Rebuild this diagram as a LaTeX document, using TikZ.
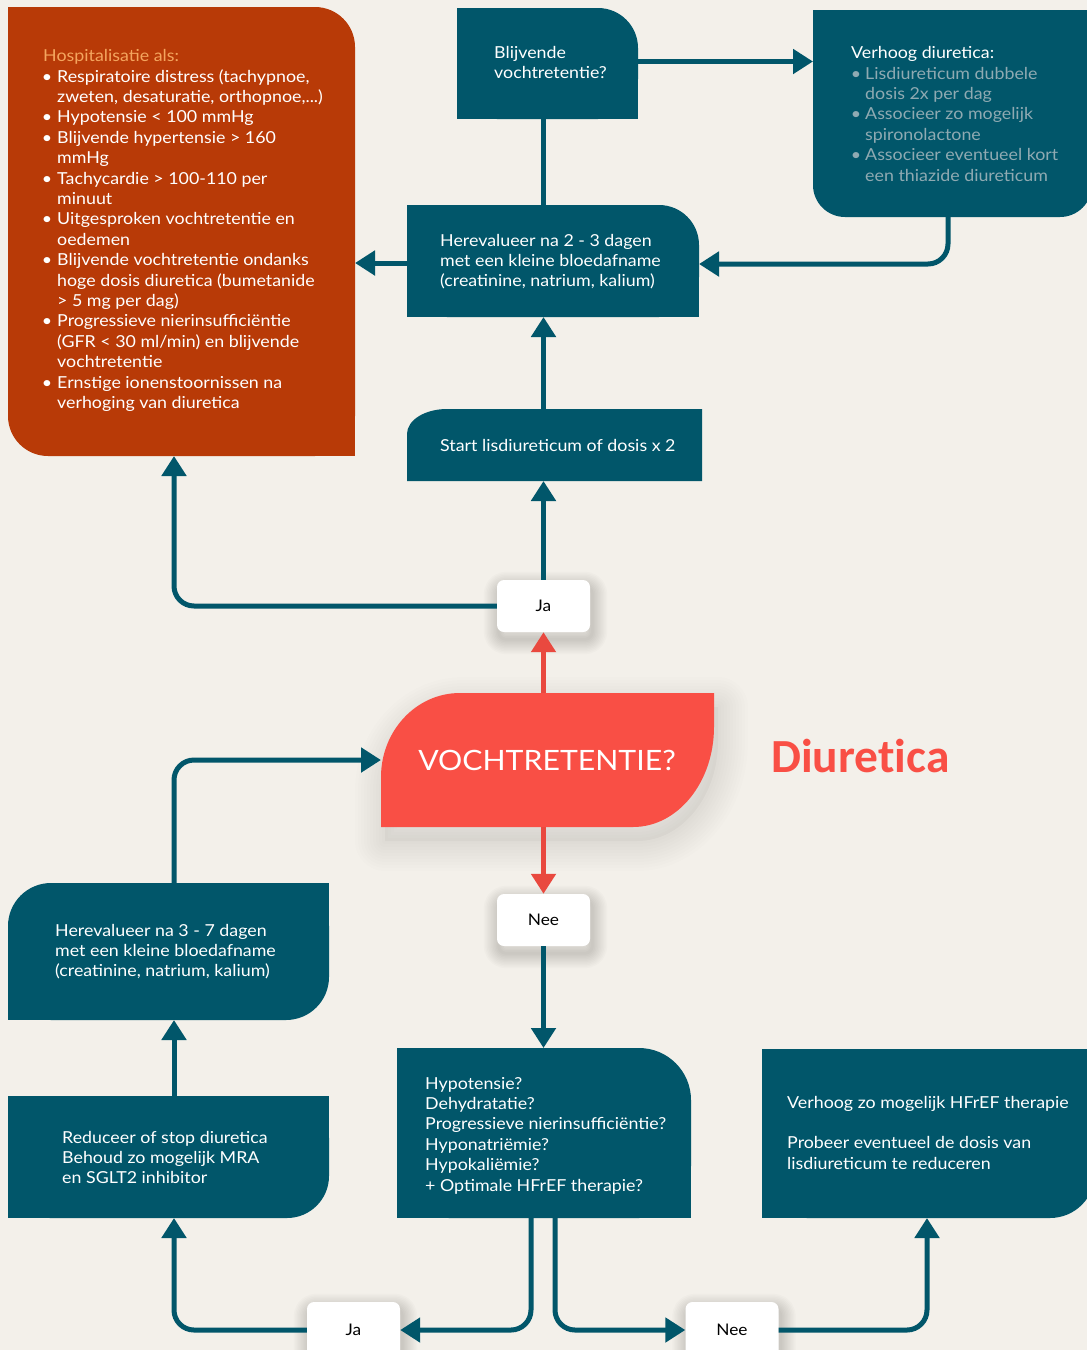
\documentclass[tikz,border=0pt]{standalone}
\usepackage{fontspec}
\setmainfont{Lato}[FakeStretch=1.08]
\newfontfamily\diurfont{Carlito}[Ligatures=NoCommon]
\usetikzlibrary{arrows.meta,calc}
\definecolor{bgc}{HTML}{F3F0EA}
\definecolor{tealc}{HTML}{01566A}
\definecolor{orangebox}{HTML}{B83A07}
\definecolor{titleorange}{HTML}{F4A55E}
\definecolor{greytxt}{HTML}{8FAAB2}
\definecolor{redbox}{HTML}{F94F45}
\definecolor{redarrow}{HTML}{E9493F}
\pgfdeclarelayer{bgl}
\pgfdeclarelayer{shadowl}
\pgfsetlayers{bgl,shadowl,main}
\newcommand\bul{\makebox[0pt][r]{\textbullet\hspace{5pt}}}
\newcommand\gbul{\makebox[0pt][r]{\textbullet\hspace{4pt}}}
\def\vochpath{(381,827) -- (381,777) .. controls (381,731) and (416,693) .. (460,693) -- (714,693) -- (714,727) .. controls (714,782) and (678,827) .. (633,827) -- cycle}
\newcommand\lblshadow[1]{%
  \foreach \w in {3,6,...,30}{\draw[black, opacity=0.014, line width=\w pt, rounded corners=7pt, line join=round] ($(#1.north west)+(2,7)$) rectangle ($(#1.south east)+(2,7)$);}}
\tikzset{
  geom/.style={inner sep=0pt, outer sep=0pt},
  txt/.style={text=white, align=left, anchor=base west, inner sep=0pt, font=\fontsize{16.5}{20.4}\selectfont},
  conn/.style={draw=tealc, line width=5pt, rounded corners=20pt},
  arr/.style={conn, -{Triangle[length=20pt,width=24pt]}},
  redarr/.style={draw=redarrow, line width=5pt, -{Triangle[length=20pt,width=24pt]}},
  lbl/.style={fill=white, rounded corners=7pt, minimum width=93pt, minimum height=52pt, inner sep=0pt, font=\fontsize{16}{19}\selectfont, text=black},
}
\begin{document}
\begin{tikzpicture}[x=1pt,y=-1pt]
\useasboundingbox (0,0) rectangle (1087,1350);
\begin{pgfonlayer}{bgl}
\fill[bgc] (0,0) rectangle (1087,1350);
\end{pgfonlayer}

% geometry nodes
\node[geom, minimum width=347pt, minimum height=449pt] (hosp) at (181.5,231.5) {};
\node[geom, minimum width=181pt, minimum height=111pt] (blij) at (547.5,63.5) {};
\node[geom, minimum width=279pt, minimum height=207pt] (verh) at (952.5,113.5) {};
\node[geom, minimum width=292pt, minimum height=112pt] (her1) at (553,261) {};
\node[geom, minimum width=295pt, minimum height=72pt] (start) at (554.5,445) {};
\node[geom, minimum width=333pt, minimum height=134pt] (voch) at (547.5,760) {};
\node[geom, minimum width=321pt, minimum height=137pt] (her2) at (168.5,951.5) {};
\node[geom, minimum width=321pt, minimum height=122pt] (redu) at (168.5,1157) {};
\node[geom, minimum width=294pt, minimum height=170pt] (hyp) at (544,1133) {};
\node[geom, minimum width=333pt, minimum height=169pt] (hfr) at (928.5,1133.5) {};

% box fills
\fill[orangebox, rounded corners=40pt] (hosp.north west) rectangle (hosp.south east);
\fill[orangebox] (hosp.north west) rectangle +(40,40);
\fill[orangebox] (hosp.south east) rectangle +(-40,-40);

\fill[tealc, rounded corners=40pt] (blij.north west) rectangle (blij.south east);
\fill[tealc] (blij.north west) rectangle +(40,40);
\fill[tealc] (blij.south west) rectangle +(40,-40);
\fill[tealc] (blij.south east) rectangle +(-40,-40);

\fill[tealc, rounded corners=32pt] (verh.north west) rectangle (verh.south east);
\fill[tealc] (verh.north west) rectangle +(32,32);
\fill[tealc] (verh.north east) rectangle +(-32,32);

\fill[tealc, rounded corners=40pt] (her1.north west) rectangle (her1.south east);
\fill[tealc] (her1.north west) rectangle +(40,40);
\fill[tealc] (her1.south west) rectangle +(40,-40);
\fill[tealc] (her1.south east) rectangle +(-40,-40);

\fill[tealc] (start.south west) -- (407,434) .. controls (407,420) and (425,409) .. (447,409) -- (start.north east) -- (start.south east) -- cycle;

\fill[tealc, rounded corners=43pt] (her2.north west) rectangle (her2.south east);
\fill[tealc] (her2.north east) rectangle +(-43,43);
\fill[tealc] (her2.south west) rectangle +(43,-43);

\fill[tealc, rounded corners=42pt] (redu.north west) rectangle (redu.south east);
\fill[tealc] (redu.north west) rectangle +(42,42);
\fill[tealc] (redu.north east) rectangle +(-42,42);
\fill[tealc] (redu.south west) rectangle +(42,-42);

\fill[tealc, rounded corners=52pt] (hyp.north west) rectangle (hyp.south east);
\fill[tealc] (hyp.north west) rectangle +(52,52);
\fill[tealc] (hyp.south west) rectangle +(52,-52);
\fill[tealc] (hyp.south east) rectangle +(-52,-52);

\fill[tealc, rounded corners=45pt] (hfr.north west) rectangle (hfr.south east);
\fill[tealc] (hfr.north west) rectangle +(45,45);
\fill[tealc] (hfr.north east) rectangle +(-45,45);
\fill[tealc] (hfr.south west) rectangle +(45,-45);

\begin{pgfonlayer}{shadowl}
\foreach \w in {6,12,...,60}{\draw[black, opacity=0.009, line width=\w pt, line join=round, shift={(4,14)}] \vochpath;}
\fill[black, opacity=0.03, shift={(4,14)}] \vochpath;
\end{pgfonlayer}
\fill[redbox] \vochpath;

% texts (anchored at the baseline of their last line)
\node[txt, text=titleorange] (t-hosp) at (43,61) {Hospitalisatie als:};
\node[txt] (t-hospl) at (57,408.4) {\bul Respiratoire distress (tachypnoe,\\zweten, desaturatie, orthopnoe,...)\\\bul Hypotensie < 100 mmHg\\\bul Blijvende hypertensie > 160\\mmHg\\\bul Tachycardie > 100-110 per\\minuut\\\bul Uitgesproken vochtretentie en\\oedemen\\\bul Blijvende vochtretentie ondanks\\hoge dosis diuretica (bumetanide\\> 5 mg per dag)\\\bul Progressieve nierinsufficiëntie\\(GFR < 30 ml/min) en blijvende\\vochtretentie\\\bul Ernstige ionenstoornissen na\\verhoging van diuretica};
\node[txt] (t-blij) at (494,78.4) {Blijvende\\vochtretentie?};
\node[txt] (t-verh) at (851,58) {Verhoog diuretica:};
\node[txt, text=greytxt] (t-verhl) at (865,181) {\gbul Lisdiureticum dubbele\\dosis 2x per dag\\\gbul Associeer zo mogelijk\\spironolactone\\\gbul Associeer eventueel kort\\een thiazide diureticum};
\node[txt] (t-her1) at (440,286.8) {Herevalueer na 2 - 3 dagen\\met een kleine bloedafname\\(creatinine, natrium, kalium)};
\node[txt] (t-start) at (440,451) {Start lisdiureticum of dosis x 2};
\node[text=white, inner sep=0pt, font=\fontsize{28}{32}\selectfont] (t-voch) at (547,760) {VOCHTRETENTIE?};
\node[anchor=base west, inner sep=0pt, text=redbox, font=\diurfont\bfseries\fontsize{47.5}{50}\selectfont] (t-diur) at (771,772) {Diuretica};
\node[txt] (t-her2) at (55,976.8) {Herevalueer na 3 - 7 dagen\\met een kleine bloedafname\\(creatinine, natrium, kalium)};
\node[txt] (t-redu) at (62,1183.8) {Reduceer of stop diuretica\\Behoud zo mogelijk MRA\\en SGLT2 inhibitor};
\node[txt] (t-hyp) at (425,1191) {Hypotensie?\\Dehydratatie?\\Progressieve nierinsufficiëntie?\\Hyponatriëmie?\\Hypokaliëmie?\\+ Optimale HFrEF therapie?};
\node[txt] (t-hfr) at (787,1169.2) {Verhoog zo mogelijk HFrEF therapie\\[20.4pt]Probeer eventueel de dosis van\\lisdiureticum te reduceren};

% label boxes
\node[lbl] (ja1) at (543.5,606) {Ja};
\node[lbl] (nee1) at (543.5,920) {Nee};
\node[lbl, minimum height=56pt] (ja2) at (353.5,1330) {Ja};
\node[lbl, minimum height=56pt] (nee2) at (732,1330) {Nee};
\begin{pgfonlayer}{shadowl}
\lblshadow{ja1}
\lblshadow{nee1}
\lblshadow{ja2}
\lblshadow{nee2}
\end{pgfonlayer}

% coordinates for connector columns
\coordinate (lx) at (174,0);
\coordinate (vx) at (948,0);
\coordinate (hx1) at (531,0);
\coordinate (hx2) at (555,0);
\coordinate (hx3) at (927,0);

% connectors
\draw[conn] (blij.south -| ja1) -- (her1.north -| ja1);
\draw[arr] ($(blij.east)+(0,-2)$) -- ($(blij.east -| verh.west)+(0,-2)$);
\draw[arr] (verh.south -| vx) |- ($(her1.east)+(0,3)$);
\draw[arr] ($(her1.west)+(0,2)$) -- ($(her1.west -| hosp.east)+(0,2)$);
\draw[arr] (start.north -| ja1) -- (her1.south -| ja1);
\draw[arr] (ja1.north) -- (start.south -| ja1);
\draw[arr] (ja1.west) -| (hosp.south -| lx);
\draw[redarr] (voch.north -| ja1) -- (ja1.south);
\draw[redarr] (voch.south -| ja1) -- (nee1.north);
\draw[arr] (nee1.south) -- (hyp.north -| nee1);
\draw[arr] (her2.north -| lx) |- (voch.west);
\draw[arr] (redu.north -| lx) -- (her2.south -| lx);
\draw[arr] (hyp.south -| hx1) |- (ja2.east);
\draw[arr] (ja2.west) -| (redu.south -| lx);
\draw[arr] (hyp.south -| hx2) |- (nee2.west);
\draw[arr] (nee2.east) -| (hfr.south -| hx3);
\end{tikzpicture}
\end{document}
